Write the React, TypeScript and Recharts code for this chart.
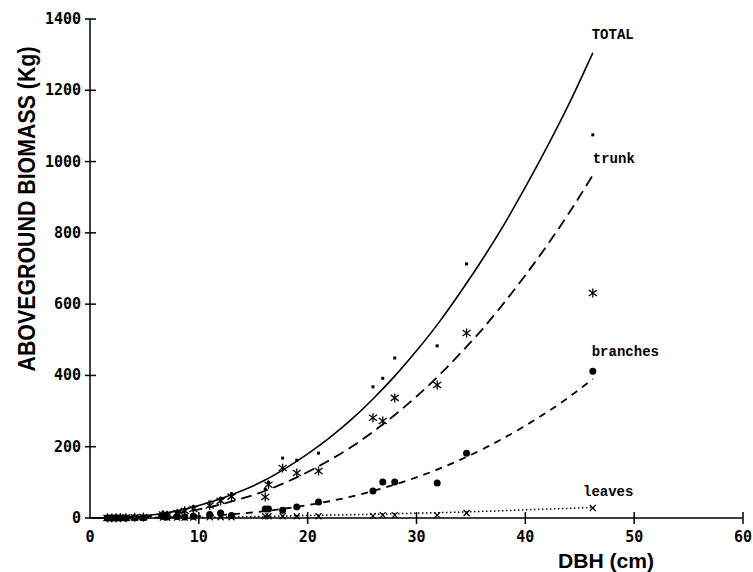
import React from 'react';
import {
  ComposedChart,
  Line,
  Scatter,
  XAxis,
  YAxis,
  ReferenceDot,
} from 'recharts';

// fitted curves (DBH cm -> kg)
const curveDbh = [0, 2, 4, 6, 8, 10, 12, 14, 16, 18, 20, 22, 24, 26, 28, 30, 32, 34, 36, 38, 40, 42, 44, 46.2];
const totalCurve = [0, 0.8, 4, 10, 20, 35, 54, 77, 105, 140, 180, 225, 276, 334, 398, 469, 546, 632, 723, 821, 928, 1041, 1161, 1305];
const trunkCurve = [0, 0.5, 2.7, 7, 14, 24, 38, 55, 75, 100, 129, 162, 199, 242, 289, 341, 398, 461, 528, 602, 681, 765, 855, 962];
const branchCurve = [0, 0.1, 0.4, 1.2, 2.6, 5, 8.4, 13, 19, 27, 36, 47, 60, 76, 94, 114, 137, 163, 192, 224, 259, 297, 339, 390];
const leafCurve = [0, 0.1, 0.2, 0.5, 1, 1.6, 2.5, 3.4, 4.5, 5.7, 7, 8.2, 9.2, 10.5, 12, 13.5, 15, 16.5, 18.5, 20.5, 23, 25, 27, 30];

// measured trees
const treeDbh = [1.6, 2.0, 2.4, 2.8, 3.3, 4.1, 4.9, 6.7, 7.1, 8.0, 8.7, 9.5, 11.0, 12.0, 13.0, 16.1, 16.4, 17.7, 19.0, 21.0, 26.0, 26.9, 28.0, 31.9, 34.6, 46.2];
const totalObs = [0.3, 0.5, 0.8, 1, 1.5, 3, 4, 15, 12, 18, 24, 32, 45, 55, 68, 80, 100, 168, 162, 182, 368, 392, 449, 483, 713, 1075];
const trunkObs = [0.2, 0.3, 0.5, 0.7, 1, 2, 3, 10, 8, 13, 20, 25, 35, 48, 60, 59, 93, 140, 126, 132, 281, 272, 337, 373, 519, 631];
const branchObs = [0.1, 0.1, 0.2, 0.2, 0.3, 1, 1, 4, 3, 4, 3, 5, 10, 14, 7, 25, 25, 22, 31, 45, 76, 101, 101, 98, 182, 412];
const leafObs = [0.05, 0.1, 0.1, 0.1, 0.2, 0.3, 0.4, 1, 1, 1, 1, 1.5, 2, 2, 2, 5, 5, 5, 5, 5, 6, 8, 8, 8, 14, 28];

const xTicks = [0, 10, 20, 30, 40, 50, 60];
const yTicks = [0, 200, 400, 600, 800, 1000, 1200, 1400];

const pair = (xs: number[], ys: number[]) => xs.map((x, i) => ({ x, y: ys[i] }));

const tickFont = "'DejaVu Sans Mono', monospace";
const labelFont = "'Liberation Mono', 'Courier New', monospace";
const titleFont = "'Liberation Sans', Arial, sans-serif";

const YTick = ({ x, y, payload }: any) => (
  <g>
    <line x1={x - 5} x2={x + 6} y1={y} y2={y} stroke="#000" strokeWidth={1.5} />
    <text x={x - 9} y={y} textAnchor="end" dominantBaseline="central" fontFamily={tickFont} fontWeight="bold" fontSize={15} fill="#000">
      {payload.value}
    </text>
  </g>
);

const XTick = ({ x, y, payload }: any) => (
  <g>
    {payload.value !== 0 && <line x1={x} x2={x} y1={y - 6} y2={y + 6} stroke="#000" strokeWidth={1.5} />}
    <text x={x} y={y + 19} textAnchor="middle" dominantBaseline="central" fontFamily={tickFont} fontWeight="bold" fontSize={15} fill="#000">
      {payload.value}
    </text>
  </g>
);

const Square = ({ cx, cy }: any) => <rect x={cx - 1.5} y={cy - 1.5} width={3} height={3} fill="#000" />;

const Star = ({ cx, cy }: any) => (
  <g stroke="#000" strokeWidth={1.3}>
    <line x1={cx} x2={cx} y1={cy - 4.5} y2={cy + 4.5} />
    <line x1={cx - 4} x2={cx + 4} y1={cy - 3} y2={cy + 3} />
    <line x1={cx - 4} x2={cx + 4} y1={cy + 3} y2={cy - 3} />
  </g>
);

const Dot = ({ cx, cy }: any) => <circle cx={cx} cy={cy} r={3.5} fill="#000" />;

const Cross = ({ cx, cy }: any) => (
  <g stroke="#000" strokeWidth={1.2}>
    <line x1={cx - 3} x2={cx + 3} y1={cy - 3} y2={cy + 3} />
    <line x1={cx - 3} x2={cx + 3} y1={cy + 3} y2={cy - 3} />
  </g>
);

const curveLabel = (text: string) => ({ viewBox }: any) => (
  <text x={viewBox.x} y={viewBox.y} dominantBaseline="central" fontFamily={labelFont} fontWeight="bold" fontSize={14} fill="#000">
    {text}
  </text>
);

export default function App() {
  return (
    <div style={{ position: 'absolute', left: 0, top: 0, background: '#fff' }}>
      <ComposedChart width={753} height={572} margin={{ top: 19, right: 10, bottom: 24, left: 30 }}>
        <XAxis
          dataKey="x"
          type="number"
          domain={[0, 60]}
          ticks={xTicks}
          allowDataOverflow
          height={30}
          tickSize={0}
          tickMargin={0}
          tickLine={false}
          axisLine={{ stroke: '#000', strokeWidth: 1.5 }}
          tick={<XTick />}
          label={{
            content: () => (
              <text x={606} y={568} textAnchor="middle" fontFamily={titleFont} fontWeight="bold" fontSize={21} textLength={96} lengthAdjust="spacingAndGlyphs" fill="#000">
                DBH (cm)
              </text>
            ),
          }}
        />
        <YAxis
          type="number"
          domain={[0, 1400]}
          ticks={yTicks}
          width={60}
          tickSize={0}
          tickMargin={0}
          tickLine={false}
          axisLine={{ stroke: '#000', strokeWidth: 1.5 }}
          tick={<YTick />}
          label={{
            content: () => (
              <text x={35} y={209} transform="rotate(-90 35 209)" textAnchor="middle" fontFamily={titleFont} fontWeight="bold" fontSize={24} textLength={325} lengthAdjust="spacingAndGlyphs" fill="#000">
                ABOVEGROUND BIOMASS (Kg)
              </text>
            ),
          }}
        />

        <Line data={pair(curveDbh, totalCurve)} dataKey="y" type="monotone" stroke="#000" strokeWidth={1.6} dot={false} isAnimationActive={false} />
        <Line data={pair(curveDbh, trunkCurve)} dataKey="y" type="monotone" stroke="#000" strokeWidth={1.8} strokeDasharray="11 6" dot={false} isAnimationActive={false} />
        <Line data={pair(curveDbh, branchCurve)} dataKey="y" type="monotone" stroke="#000" strokeWidth={1.8} strokeDasharray="7 6" dot={false} isAnimationActive={false} />
        <Line data={pair(curveDbh, leafCurve)} dataKey="y" type="monotone" stroke="#000" strokeWidth={1.5} strokeDasharray="1.5 2.5" dot={false} isAnimationActive={false} />

        <Scatter data={pair(treeDbh, totalObs)} dataKey="y" shape={<Square />} isAnimationActive={false} />
        <Scatter data={pair(treeDbh, trunkObs)} dataKey="y" shape={<Star />} isAnimationActive={false} />
        <Scatter data={pair(treeDbh, branchObs)} dataKey="y" shape={<Dot />} isAnimationActive={false} />
        <Scatter data={pair(treeDbh, leafObs)} dataKey="y" shape={<Cross />} isAnimationActive={false} />

        <ReferenceDot x={46.1} y={1355} r={0} stroke="none" label={{ content: curveLabel('TOTAL') }} />
        <ReferenceDot x={46.2} y={1007} r={0} stroke="none" label={{ content: curveLabel('trunk') }} />
        <ReferenceDot x={46.1} y={466} r={0} stroke="none" label={{ content: curveLabel('branches') }} />
        <ReferenceDot x={45.3} y={73} r={0} stroke="none" label={{ content: curveLabel('leaves') }} />
      </ComposedChart>
    </div>
  );
}
